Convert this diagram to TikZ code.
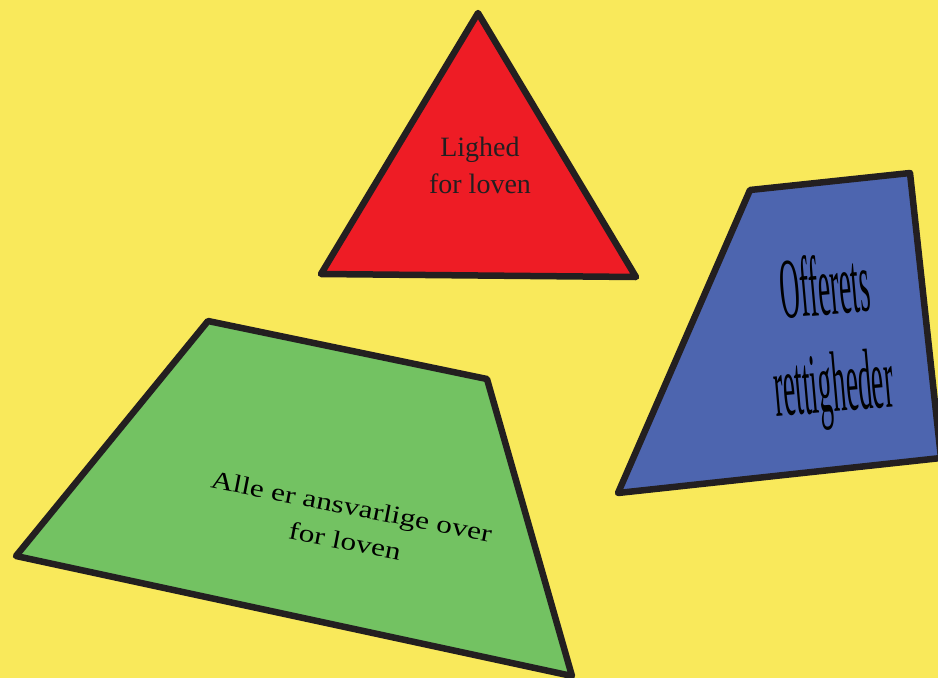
\documentclass[tikz,border=0pt]{standalone}
\usepackage{fontspec}
\setmainfont{Liberation Serif}
\usepackage{graphicx}
\definecolor{bgyellow}{HTML}{F9E95B}
\definecolor{tred}{HTML}{EE1C25}
\definecolor{tblue}{HTML}{4D65AF}
\definecolor{tgreen}{HTML}{73C262}
\definecolor{edge}{HTML}{231F20}
\tikzset{
  shapebox/.style={draw=edge, line width=6.5pt, line join=round},
  lbl/.style={align=center, inner sep=0pt, text=edge},
  greentxt/.style={inner sep=0pt, text=black, rotate=-11, font=\fontsize{25}{33}\selectfont},
  bluetxt/.style={inner sep=0pt, text=black, rotate=5}
}
\begin{document}
\begin{tikzpicture}[x=1pt,y=-1pt]
\fill[bgyellow] (0,0) rectangle (938,678);
\useasboundingbox (0,0) rectangle (938,678);
\begin{scope}
\clip (0,0) rectangle (938,678);
% red triangle
\coordinate (t1) at (478,13);
\coordinate (t2) at (636,277);
\coordinate (t3) at (321,274);
\filldraw[shapebox, fill=tred] (t1) -- (t2) -- (t3) -- cycle;
% blue quadrilateral
\coordinate (b1) at (750,190);
\coordinate (b2) at (910,173);
\coordinate (b3) at (941,458);
\coordinate (b4) at (618,493);
\filldraw[shapebox, fill=tblue] (b1) -- (b2) -- (b3) -- (b4) -- cycle;
% green quadrilateral
\coordinate (g1) at (208,321);
\coordinate (g2) at (487,379);
\coordinate (g3) at (572,676);
\coordinate (g4) at (16,556);
\filldraw[shapebox, fill=tgreen] (g1) -- (g2) -- (g3) -- (g4) -- cycle;
\end{scope}
% labels
\node[lbl, font=\fontsize{28}{37}\selectfont] (lighed) at (480,165) {Lighed\\for loven};
\node[bluetxt] (offer1) at (825,285)
  {\scalebox{0.32}[1]{\fontsize{86}{104}\selectfont Offerets}};
\node[bluetxt] (offer2) at (834,391)
  {\scalebox{0.32}[1]{\fontsize{86}{104}\selectfont rettigheder}};
\node[greentxt] (alle1) at (351,509)
  {\scalebox{1.25}[1]{Alle er ansvarlige over}};
\node[greentxt] (alle2) at (345,541)
  {\scalebox{1.25}[1]{for loven}};
\end{tikzpicture}
\end{document}
